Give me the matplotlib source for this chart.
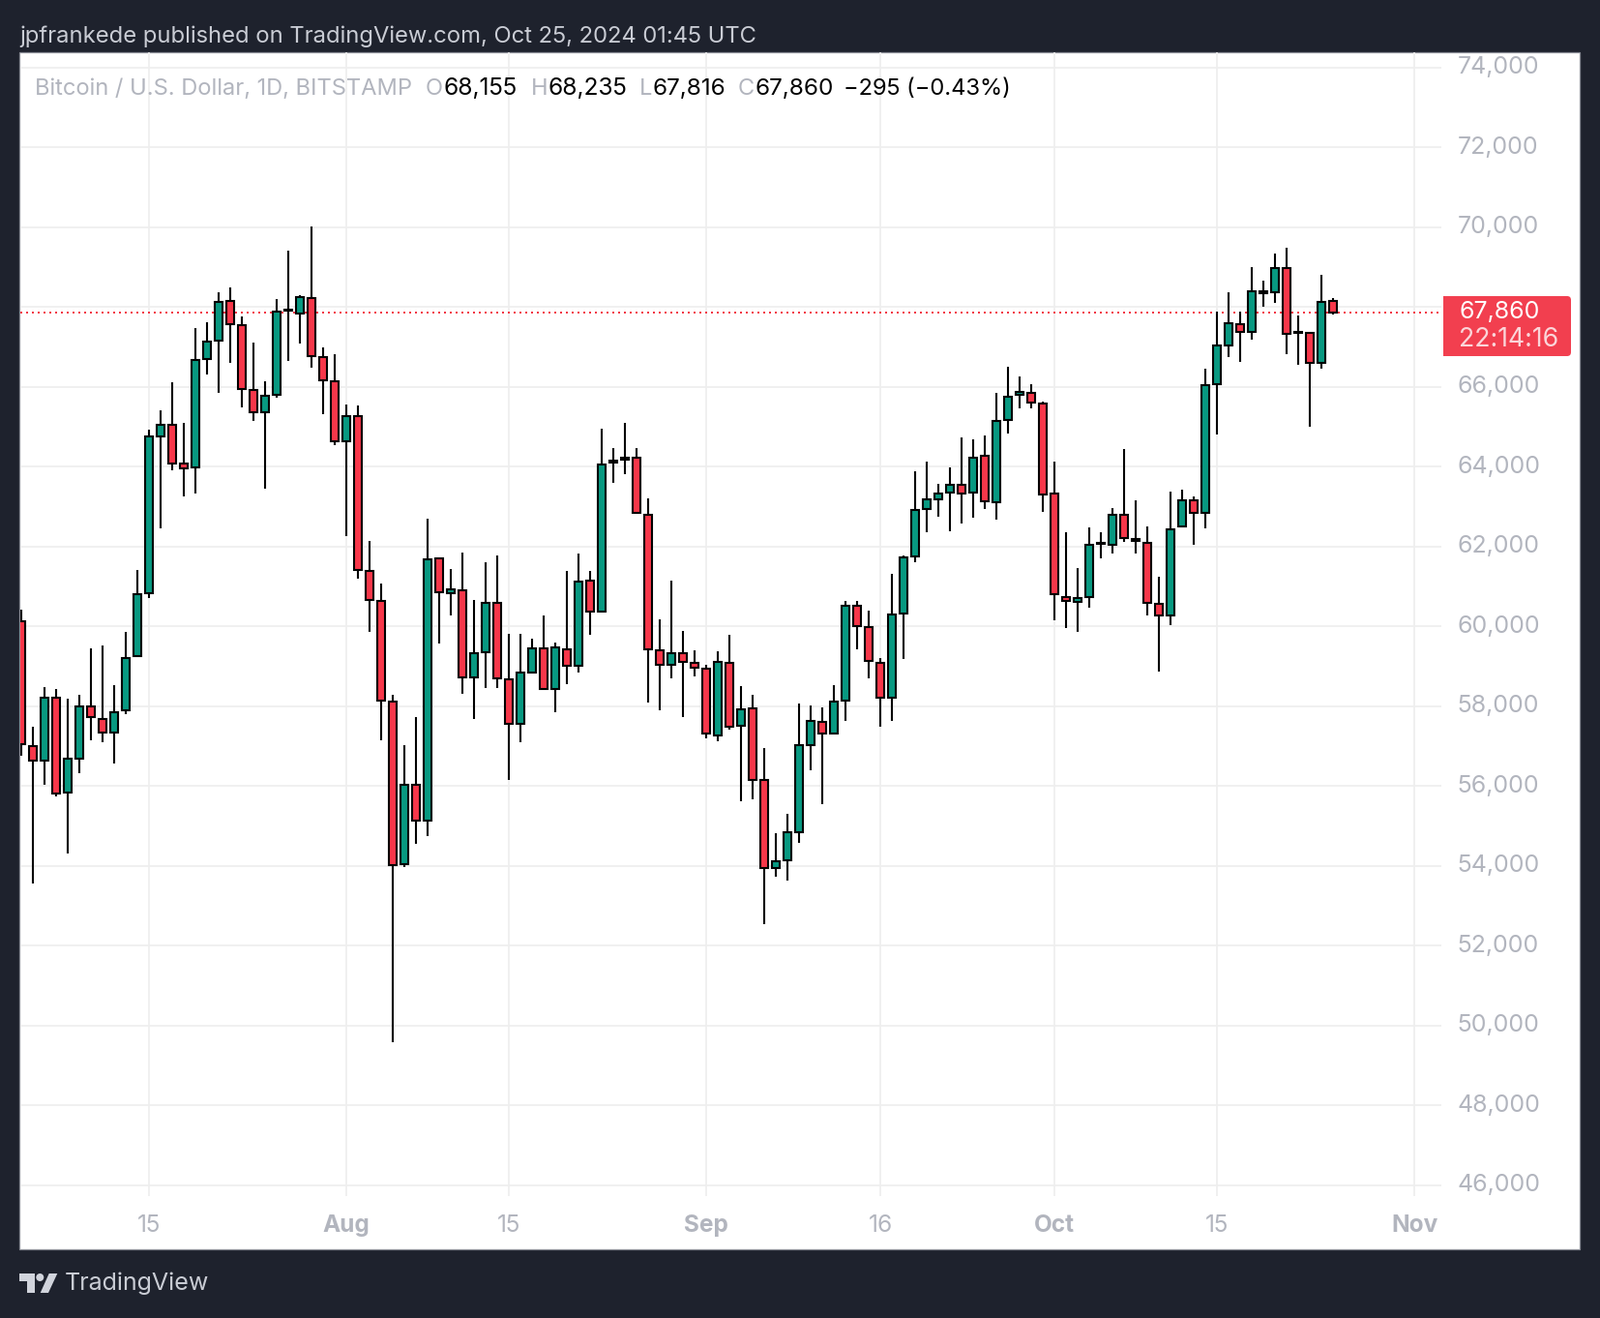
import datetime as dt

import matplotlib.dates as mdates
import matplotlib.pyplot as plt
from matplotlib.patches import Circle, FancyBboxPatch, Polygon, Rectangle

W, H = 1654, 1362

start_date = dt.date(2024, 7, 4)

opens = [60130, 57005, 56640, 58215, 55840, 56690, 58000, 57685, 57345, 57900,
         59260, 60820, 64760, 65055, 64080, 63985, 66700, 67155, 68155, 67545,
         65925, 65370, 65805, 67900, 67840, 68225, 66745, 66145, 64630, 65275,
         61385, 60635, 58115, 54045, 56035, 55130, 61700, 60825, 60900, 58715,
         59345, 60585, 58660, 57545, 58850, 59450, 58420, 59430, 59010, 61140,
         60365, 64100, 64180, 64220, 62790, 59395, 59040, 59325, 59080, 58935,
         57275, 59080, 57505, 57945, 56150, 53940, 54140, 54850, 57035, 57595,
         57325, 58130, 60520, 59985, 59090, 58200, 60330, 61750, 62940, 63180,
         63350, 63555, 63350, 64280, 63100, 65165, 65800, 65855, 65585, 63315,
         60740, 60605, 60730, 62070, 62045, 62795, 62150, 62085, 60570, 60260,
         62500, 63155, 62830, 66060, 67045, 67570, 67385, 68340, 68365, 68980,
         67360, 67355, 66595, 68155]
highs = [60410, 57475, 58470, 58425, 58180, 58275, 59450, 59520, 58520, 59850,
         61400, 64925, 65405, 66110, 65090, 67460, 67615, 68365, 68485, 67755,
         67100, 66135, 68190, 69400, 68285, 70010, 66980, 66815, 65545, 65525,
         62130, 61070, 58275, 57030, 57715, 62705, 61700, 61445, 61855, 60670,
         61595, 61780, 59815, 59815, 59680, 60260, 59605, 61395, 61815, 61395,
         64955, 64475, 65085, 64475, 63210, 60185, 61150, 59890, 59405, 59040,
         59385, 59775, 58495, 58295, 56960, 54825, 55290, 58055, 58025, 57975,
         58535, 60645, 60645, 60385, 59195, 61305, 61770, 63880, 64120, 63560,
         63975, 64725, 64675, 64770, 65845, 66500, 66260, 66060, 65625, 64120,
         62345, 61450, 62470, 62345, 62960, 64435, 63150, 62495, 61230, 63385,
         63430, 63260, 66465, 67895, 68380, 67895, 68990, 68650, 69350, 69475,
         67775, 67380, 68795, 68235]
lows = [56750, 53550, 56040, 55735, 54300, 56310, 57155, 57085, 56560, 57790,
        59260, 60705, 62445, 63900, 63245, 63315, 66300, 65840, 66590, 65475,
        65135, 63445, 65725, 66640, 67075, 66475, 65310, 64535, 62255, 61185,
        59850, 57155, 49590, 53975, 54560, 54750, 59575, 60280, 58315, 57685,
        58460, 58460, 56140, 57105, 58820, 58420, 57850, 58555, 58830, 59775,
        60365, 63600, 63820, 62845, 58095, 57885, 58705, 57735, 58755, 57200,
        57125, 57400, 55605, 55655, 52545, 53730, 53630, 54580, 56395, 55550,
        57325, 57630, 59425, 58705, 57485, 57630, 59185, 61595, 62365, 62755,
        62390, 62585, 62725, 62950, 62680, 64840, 65455, 65455, 62870, 60155,
        59965, 59870, 60470, 61710, 61835, 62125, 61835, 60280, 58870, 60025,
        62500, 62040, 62450, 64805, 66745, 66625, 67185, 68010, 68105, 66820,
        66555, 65000, 66455, 67816]
closes = [57050, 56640, 58215, 55815, 56690, 58000, 57735, 57345, 57850, 59215,
          60810, 64750, 65055, 64080, 63960, 66675, 67135, 68130, 67570, 65945,
          65370, 65780, 67885, 67940, 68250, 66770, 66170, 64630, 65275, 61410,
          60670, 58145, 54020, 56035, 55130, 61680, 60845, 60920, 58715, 59325,
          60585, 58695, 57545, 58840, 59450, 58420, 59470, 59010, 61120, 60365,
          64055, 64150, 64225, 62845, 59430, 59040, 59325, 59115, 58965, 57315,
          59115, 57475, 57925, 56150, 53940, 54120, 54830, 57025, 57630, 57325,
          58110, 60520, 60000, 59130, 58200, 60300, 61730, 62920, 63190, 63330,
          63555, 63320, 64235, 63130, 65155, 65760, 65870, 65605, 63305, 60810,
          60625, 60710, 62045, 62080, 62795, 62210, 62190, 60585, 60270, 62430,
          63155, 62830, 66045, 67040, 67595, 67385, 68395, 68390, 68980, 67320,
          67380, 66595, 68130, 67860]

price_ticks = list(range(46000, 74001, 2000))
date_ticks = [dt.date(2024, 7, 15), dt.date(2024, 8, 1), dt.date(2024, 8, 15),
              dt.date(2024, 9, 1), dt.date(2024, 9, 16), dt.date(2024, 10, 1),
              dt.date(2024, 10, 15), dt.date(2024, 11, 1)]
date_labels = ["15", "Aug", "15", "Sep", "16", "Oct", "15", "Nov"]

BG = "#1e222d"
GRID = "#eeeeee"
GREY = "#b2b5be"
RED = "#f7374a"
GREEN = "#089981"

plt.rcParams["font.family"] = "Inter"

fig = plt.figure(figsize=(W / 100, H / 100), dpi=100, facecolor=BG)

# white panel behind the chart
fig.add_artist(Rectangle((20 / W, 1 - 1291 / H), 1613 / W, 1237 / H, transform=fig.transFigure,
                         facecolor="white", edgecolor="#8a8d96", lw=0.9, zorder=-1))

ax = fig.add_axes([20.5 / W, 1 - 1236 / H, (1490 - 20.5) / W, (1236 - 54) / H], facecolor="none")
for spine in ax.spines.values():
    spine.set_visible(False)

dates = [mdates.date2num(start_date + dt.timedelta(days=i)) for i in range(len(opens))]
x0 = mdates.date2num(date_ticks[0])
ax.set_xlim(x0 - 133.5 / 12, x0 + 1336 / 12)
ax.set_ylim(45726, 74381)

ax.set_axisbelow(True)
ax.grid(True, color=GRID, lw=1.2)

ax.yaxis.tick_right()
ax.set_yticks(price_ticks)
# the 68,000 label sits under the last price box, so it is left blank
ax.set_yticklabels(["" if p == 68000 else f"{p:,}" for p in price_ticks], fontsize=17.9, color=GREY, va="center")
ax.set_xticks([mdates.date2num(d) for d in date_ticks])
ax.set_xticklabels(date_labels, fontsize=17.6, color=GREY)
ax.tick_params(axis="both", length=0)
ax.tick_params(axis="y", pad=12)
ax.tick_params(axis="x", pad=14)
for tick, name in zip(ax.get_xticklabels(), date_labels):
    if not name.isdigit():
        tick.set_fontweight("bold")

ax.axhline(closes[-1], color="#f23645", lw=1.44, ls=(0, (1, 2)), zorder=1.5)

# candles
colors = [GREEN if c >= o else RED for o, c in zip(opens, closes)]
ax.vlines(dates, lows, highs, color="black", lw=1.5, zorder=2, capstyle="butt")
ax.bar(dates, [abs(c - o) for o, c in zip(opens, closes)], bottom=[min(o, c) for o, c in zip(opens, closes)],
       width=0.62, color=colors, edgecolor="black", lw=1.5, zorder=3)

# pixel overlay for header, footer and price label
over = fig.add_axes([0, 0, 1, 1], facecolor="none")
over.set_xlim(0, W)
over.set_ylim(H, 0)
over.axis("off")

over.text(20, 38, "jpfrankede published on TradingView.com, Oct 25, 2024 01:45 UTC",
          fontsize=17.1, color="#c9ccd4", va="center")

legend_y = 92
over.text(36, legend_y, "Bitcoin / U.S. Dollar, 1D, BITSTAMP", fontsize=17.0, color=GREY, va="center")
for x, s, c, fs in [(440, "O", GREY, 17.0), (458, "68,155", "black", 17.6), (549, "H", GREY, 17.0),
                    (567, "68,235", "black", 17.6), (661, "L", GREY, 17.0), (674, "67,816", "black", 17.4),
                    (763, "C", GREY, 17.0), (780, "67,860", "black", 17.4),
                    (872, "\u2212295 (\u22120.43%)", "black", 17.0)]:
    over.text(x, legend_y, s, fontsize=fs, color=c, va="center")

# last price label, placed from the last close
last_y = H - ax.transData.transform((0, closes[-1]))[1]
over.add_patch(FancyBboxPatch((1492, last_y - 17), 132, 62, boxstyle="round,pad=0,rounding_size=4",
                              facecolor="#f23f4f", edgecolor="none"))
over.add_patch(Rectangle((1492, last_y - 17), 10, 62, facecolor="#f23f4f", edgecolor="none"))
over.text(1508, last_y, f"{closes[-1]:,}", fontsize=17.9, color="white", va="center")
over.text(1508, last_y + 28, "22:14:16", fontsize=19.2, color="#fbd5d9", va="center")

# logo
logo = "#d1d4dc"
over.add_patch(Polygon([(20, 1316), (35.7, 1316), (35.7, 1336), (28, 1336), (28, 1324), (20, 1324)], facecolor=logo))
over.add_patch(Circle((41.3, 1320), 4, facecolor=logo))
over.add_patch(Polygon([(50.7, 1316), (59.3, 1316), (50, 1336), (41.7, 1336)], facecolor=logo))
over.text(67, 1326, "TradingView", fontsize=18, color="#c9ccd4", va="center")

fig.savefig("out.png", dpi=100, facecolor=BG)
